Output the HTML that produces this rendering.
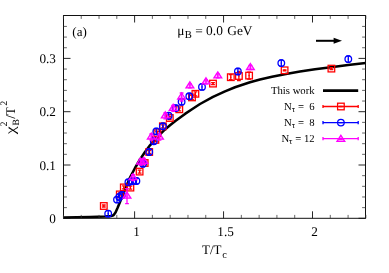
<!DOCTYPE html>
<html><head><meta charset="utf-8"><title>chi2B</title>
<style>
html,body{margin:0;padding:0;background:#fff;}
body{width:389px;height:273px;overflow:hidden;}
svg{display:block;will-change:transform;}
text{font-family:"Liberation Serif",serif;fill:#000;white-space:pre;text-rendering:geometricPrecision;}
</style></head><body>
<svg width="389" height="273" viewBox="0 0 389 273">
<rect width="389" height="273" fill="#fff"/>
<path d="M63.6 217.6 L90.0 217.0 L105.0 216.4 L111.0 216.0 L113.5 215.2 L115.5 212.5 L117.5 208.0 L120.0 202.0 L125.0 189.5 L130.0 177.5 L135.0 168.0 L140.0 159.5 L145.0 152.0 L150.0 145.3 L157.0 137.3 L163.5 130.9 L170.0 125.2 L176.0 120.6 L185.0 113.9 L192.0 109.2 L200.0 104.0 L213.0 96.9 L225.0 91.4 L235.0 87.3 L250.0 82.3 L260.0 79.6 L272.0 76.8 L284.6 74.2 L300.0 71.5 L315.0 69.2 L331.0 67.2 L348.0 65.0 L365.7 63.0" fill="none" stroke="#000" stroke-width="2.55" stroke-linejoin="round" stroke-linecap="butt"/>
<rect x="100.50" y="202.70" width="6.60" height="6.60" fill="none" stroke="#ff0000" stroke-width="1.3"/><path d="M103.80 205.00V207.00M101.90 205.00h3.8M101.90 207.00h3.8" stroke="#ff0000" stroke-width="1.3" fill="none"/><circle cx="103.80" cy="206.00" r="0.7" fill="#ff0000"/>
<rect x="116.50" y="191.10" width="6.60" height="6.60" fill="none" stroke="#ff0000" stroke-width="1.3"/><path d="M119.80 192.90V195.90M117.90 192.90h3.8M117.90 195.90h3.8" stroke="#ff0000" stroke-width="1.3" fill="none"/><circle cx="119.80" cy="194.40" r="0.7" fill="#ff0000"/>
<rect x="120.50" y="184.10" width="6.60" height="6.60" fill="none" stroke="#ff0000" stroke-width="1.3"/><path d="M123.80 185.90V188.90M121.90 185.90h3.8M121.90 188.90h3.8" stroke="#ff0000" stroke-width="1.3" fill="none"/><circle cx="123.80" cy="187.40" r="0.7" fill="#ff0000"/>
<rect x="127.10" y="184.30" width="6.60" height="6.60" fill="none" stroke="#ff0000" stroke-width="1.3"/><path d="M130.40 186.10V189.10M128.50 186.10h3.8M128.50 189.10h3.8" stroke="#ff0000" stroke-width="1.3" fill="none"/><circle cx="130.40" cy="187.60" r="0.7" fill="#ff0000"/>
<rect x="136.30" y="168.30" width="6.60" height="6.60" fill="none" stroke="#ff0000" stroke-width="1.3"/><path d="M139.60 170.10V173.10M137.70 170.10h3.8M137.70 173.10h3.8" stroke="#ff0000" stroke-width="1.3" fill="none"/><circle cx="139.60" cy="171.60" r="0.7" fill="#ff0000"/>
<rect x="141.40" y="159.70" width="6.60" height="6.60" fill="none" stroke="#ff0000" stroke-width="1.3"/><path d="M144.70 161.50V164.50M142.80 161.50h3.8M142.80 164.50h3.8" stroke="#ff0000" stroke-width="1.3" fill="none"/><circle cx="144.70" cy="163.00" r="0.7" fill="#ff0000"/>
<rect x="145.90" y="148.70" width="6.60" height="6.60" fill="none" stroke="#ff0000" stroke-width="1.3"/><path d="M149.20 150.50V153.50M147.30 150.50h3.8M147.30 153.50h3.8" stroke="#ff0000" stroke-width="1.3" fill="none"/><circle cx="149.20" cy="152.00" r="0.7" fill="#ff0000"/>
<rect x="152.10" y="136.60" width="6.60" height="6.60" fill="none" stroke="#ff0000" stroke-width="1.3"/><path d="M155.40 138.40V141.40M153.50 138.40h3.8M153.50 141.40h3.8" stroke="#ff0000" stroke-width="1.3" fill="none"/><circle cx="155.40" cy="139.90" r="0.7" fill="#ff0000"/>
<rect x="154.00" y="129.90" width="6.60" height="6.60" fill="none" stroke="#ff0000" stroke-width="1.3"/><path d="M157.30 131.70V134.70M155.40 131.70h3.8M155.40 134.70h3.8" stroke="#ff0000" stroke-width="1.3" fill="none"/><circle cx="157.30" cy="133.20" r="0.7" fill="#ff0000"/>
<rect x="159.60" y="123.00" width="6.60" height="6.60" fill="none" stroke="#ff0000" stroke-width="1.3"/><path d="M162.90 124.80V127.80M161.00 124.80h3.8M161.00 127.80h3.8" stroke="#ff0000" stroke-width="1.3" fill="none"/><circle cx="162.90" cy="126.30" r="0.7" fill="#ff0000"/>
<rect x="166.50" y="114.70" width="6.60" height="6.60" fill="none" stroke="#ff0000" stroke-width="1.3"/><path d="M169.80 116.50V119.50M167.90 116.50h3.8M167.90 119.50h3.8" stroke="#ff0000" stroke-width="1.3" fill="none"/><circle cx="169.80" cy="118.00" r="0.7" fill="#ff0000"/>
<rect x="176.00" y="106.00" width="6.60" height="6.60" fill="none" stroke="#ff0000" stroke-width="1.3"/><path d="M179.30 107.80V110.80M177.40 107.80h3.8M177.40 110.80h3.8" stroke="#ff0000" stroke-width="1.3" fill="none"/><circle cx="179.30" cy="109.30" r="0.7" fill="#ff0000"/>
<rect x="188.70" y="94.10" width="6.60" height="6.60" fill="none" stroke="#ff0000" stroke-width="1.3"/><path d="M192.00 95.40V99.40M190.10 95.40h3.8M190.10 99.40h3.8" stroke="#ff0000" stroke-width="1.3" fill="none"/><circle cx="192.00" cy="97.40" r="0.7" fill="#ff0000"/>
<rect x="192.10" y="90.50" width="6.60" height="6.60" fill="none" stroke="#ff0000" stroke-width="1.3"/><path d="M195.40 91.80V95.80M193.50 91.80h3.8M193.50 95.80h3.8" stroke="#ff0000" stroke-width="1.3" fill="none"/><circle cx="195.40" cy="93.80" r="0.7" fill="#ff0000"/>
<rect x="209.70" y="80.30" width="6.60" height="6.60" fill="none" stroke="#ff0000" stroke-width="1.3"/><path d="M213.00 82.60V84.60M211.10 82.60h3.8M211.10 84.60h3.8" stroke="#ff0000" stroke-width="1.3" fill="none"/><circle cx="213.00" cy="83.60" r="0.7" fill="#ff0000"/>
<rect x="227.50" y="73.90" width="6.60" height="6.60" fill="none" stroke="#ff0000" stroke-width="1.3"/><path d="M230.80 74.70V79.70M228.90 74.70h3.8M228.90 79.70h3.8" stroke="#ff0000" stroke-width="1.3" fill="none"/><circle cx="230.80" cy="77.20" r="0.7" fill="#ff0000"/>
<rect x="235.60" y="72.70" width="6.60" height="6.60" fill="none" stroke="#ff0000" stroke-width="1.3"/><path d="M238.90 71.50V80.50M237.00 71.50h3.8M237.00 80.50h3.8" stroke="#ff0000" stroke-width="1.3" fill="none"/><circle cx="238.90" cy="76.00" r="0.7" fill="#ff0000"/>
<rect x="245.80" y="72.30" width="6.60" height="6.60" fill="none" stroke="#ff0000" stroke-width="1.3"/><path d="M249.10 72.10V79.10M247.20 72.10h3.8M247.20 79.10h3.8" stroke="#ff0000" stroke-width="1.3" fill="none"/><circle cx="249.10" cy="75.60" r="0.7" fill="#ff0000"/>
<rect x="281.30" y="67.00" width="6.60" height="6.60" fill="none" stroke="#ff0000" stroke-width="1.3"/><path d="M284.60 69.80V70.80M282.70 69.80h3.8M282.70 70.80h3.8" stroke="#ff0000" stroke-width="1.3" fill="none"/><circle cx="284.60" cy="70.30" r="0.7" fill="#ff0000"/>
<rect x="328.10" y="65.30" width="6.60" height="6.60" fill="none" stroke="#ff0000" stroke-width="1.3"/><path d="M331.40 67.70V69.50M329.50 67.70h3.8M329.50 69.50h3.8" stroke="#ff0000" stroke-width="1.3" fill="none"/><circle cx="331.40" cy="68.60" r="0.7" fill="#ff0000"/>
<circle cx="108.20" cy="213.70" r="3.3" fill="none" stroke="#0000ff" stroke-width="1.3"/><path d="M108.20 210.70V216.70M106.30 210.70h3.8M106.30 216.70h3.8" stroke="#0000ff" stroke-width="1.3" fill="none"/><circle cx="108.20" cy="213.70" r="0.7" fill="#0000ff"/>
<circle cx="117.00" cy="199.60" r="3.3" fill="none" stroke="#0000ff" stroke-width="1.3"/><path d="M117.00 196.60V202.60M115.10 196.60h3.8M115.10 202.60h3.8" stroke="#0000ff" stroke-width="1.3" fill="none"/><circle cx="117.00" cy="199.60" r="0.7" fill="#0000ff"/>
<circle cx="119.30" cy="197.00" r="3.3" fill="none" stroke="#0000ff" stroke-width="1.3"/><path d="M119.30 194.00V200.00M117.40 194.00h3.8M117.40 200.00h3.8" stroke="#0000ff" stroke-width="1.3" fill="none"/><circle cx="119.30" cy="197.00" r="0.7" fill="#0000ff"/>
<circle cx="121.90" cy="195.00" r="3.3" fill="none" stroke="#0000ff" stroke-width="1.3"/><path d="M121.90 192.00V198.00M120.00 192.00h3.8M120.00 198.00h3.8" stroke="#0000ff" stroke-width="1.3" fill="none"/><circle cx="121.90" cy="195.00" r="0.7" fill="#0000ff"/>
<circle cx="128.40" cy="182.30" r="3.3" fill="none" stroke="#0000ff" stroke-width="1.3"/><path d="M128.40 179.30V185.30M126.50 179.30h3.8M126.50 185.30h3.8" stroke="#0000ff" stroke-width="1.3" fill="none"/><circle cx="128.40" cy="182.30" r="0.7" fill="#0000ff"/>
<circle cx="132.40" cy="181.20" r="3.3" fill="none" stroke="#0000ff" stroke-width="1.3"/><path d="M132.40 178.20V184.20M130.50 178.20h3.8M130.50 184.20h3.8" stroke="#0000ff" stroke-width="1.3" fill="none"/><circle cx="132.40" cy="181.20" r="0.7" fill="#0000ff"/>
<circle cx="136.40" cy="181.00" r="3.3" fill="none" stroke="#0000ff" stroke-width="1.3"/><path d="M136.40 178.00V184.00M134.50 178.00h3.8M134.50 184.00h3.8" stroke="#0000ff" stroke-width="1.3" fill="none"/><circle cx="136.40" cy="181.00" r="0.7" fill="#0000ff"/>
<circle cx="143.00" cy="163.80" r="3.3" fill="none" stroke="#0000ff" stroke-width="1.3"/><path d="M143.00 160.80V166.80M141.10 160.80h3.8M141.10 166.80h3.8" stroke="#0000ff" stroke-width="1.3" fill="none"/><circle cx="143.00" cy="163.80" r="0.7" fill="#0000ff"/>
<circle cx="149.20" cy="152.00" r="3.3" fill="none" stroke="#0000ff" stroke-width="1.3"/><path d="M149.20 149.00V155.00M147.30 149.00h3.8M147.30 155.00h3.8" stroke="#0000ff" stroke-width="1.3" fill="none"/><circle cx="149.20" cy="152.00" r="0.7" fill="#0000ff"/>
<circle cx="153.80" cy="141.20" r="3.3" fill="none" stroke="#0000ff" stroke-width="1.3"/><path d="M153.80 138.20V144.20M151.90 138.20h3.8M151.90 144.20h3.8" stroke="#0000ff" stroke-width="1.3" fill="none"/><circle cx="153.80" cy="141.20" r="0.7" fill="#0000ff"/>
<circle cx="156.30" cy="131.40" r="3.3" fill="none" stroke="#0000ff" stroke-width="1.3"/><path d="M156.30 128.40V134.40M154.40 128.40h3.8M154.40 134.40h3.8" stroke="#0000ff" stroke-width="1.3" fill="none"/><circle cx="156.30" cy="131.40" r="0.7" fill="#0000ff"/>
<circle cx="162.90" cy="126.30" r="3.3" fill="none" stroke="#0000ff" stroke-width="1.3"/><path d="M162.90 123.30V129.30M161.00 123.30h3.8M161.00 129.30h3.8" stroke="#0000ff" stroke-width="1.3" fill="none"/><circle cx="162.90" cy="126.30" r="0.7" fill="#0000ff"/>
<circle cx="168.60" cy="115.70" r="3.3" fill="none" stroke="#0000ff" stroke-width="1.3"/><path d="M168.60 112.70V118.70M166.70 112.70h3.8M166.70 118.70h3.8" stroke="#0000ff" stroke-width="1.3" fill="none"/><circle cx="168.60" cy="115.70" r="0.7" fill="#0000ff"/>
<circle cx="175.60" cy="108.10" r="3.3" fill="none" stroke="#0000ff" stroke-width="1.3"/><path d="M175.60 105.10V111.10M173.70 105.10h3.8M173.70 111.10h3.8" stroke="#0000ff" stroke-width="1.3" fill="none"/><circle cx="175.60" cy="108.10" r="0.7" fill="#0000ff"/>
<circle cx="181.60" cy="101.80" r="3.3" fill="none" stroke="#0000ff" stroke-width="1.3"/><path d="M181.60 98.80V104.80M179.70 98.80h3.8M179.70 104.80h3.8" stroke="#0000ff" stroke-width="1.3" fill="none"/><circle cx="181.60" cy="101.80" r="0.7" fill="#0000ff"/>
<circle cx="189.30" cy="96.30" r="3.3" fill="none" stroke="#0000ff" stroke-width="1.3"/><path d="M189.30 93.30V99.30M187.40 93.30h3.8M187.40 99.30h3.8" stroke="#0000ff" stroke-width="1.3" fill="none"/><circle cx="189.30" cy="96.30" r="0.7" fill="#0000ff"/>
<circle cx="202.00" cy="86.90" r="3.3" fill="none" stroke="#0000ff" stroke-width="1.3"/><path d="M202.00 83.90V89.90M200.10 83.90h3.8M200.10 89.90h3.8" stroke="#0000ff" stroke-width="1.3" fill="none"/><circle cx="202.00" cy="86.90" r="0.7" fill="#0000ff"/>
<circle cx="237.90" cy="71.50" r="3.3" fill="none" stroke="#0000ff" stroke-width="1.3"/><path d="M237.90 68.50V74.50M236.00 68.50h3.8M236.00 74.50h3.8" stroke="#0000ff" stroke-width="1.3" fill="none"/><circle cx="237.90" cy="71.50" r="0.7" fill="#0000ff"/>
<circle cx="281.30" cy="63.10" r="3.3" fill="none" stroke="#0000ff" stroke-width="1.3"/><path d="M281.30 59.80V66.40M279.40 59.80h3.8M279.40 66.40h3.8" stroke="#0000ff" stroke-width="1.3" fill="none"/><circle cx="281.30" cy="63.10" r="0.7" fill="#0000ff"/>
<circle cx="348.30" cy="59.10" r="3.3" fill="none" stroke="#0000ff" stroke-width="1.3"/><path d="M348.30 55.80V62.40M346.40 55.80h3.8M346.40 62.40h3.8" stroke="#0000ff" stroke-width="1.3" fill="none"/><circle cx="348.30" cy="59.10" r="0.7" fill="#0000ff"/>
<path d="M127.00 192.20L130.90 198.20H123.10Z" fill="#ff00ff" fill-opacity="0.3" stroke="#ff00ff" stroke-width="1.3" stroke-linejoin="miter"/><path d="M127.00 188.70V203.70M125.10 188.70h3.8M125.10 203.70h3.8" stroke="#ff00ff" stroke-width="1.3" fill="none"/><circle cx="127.00" cy="196.20" r="0.7" fill="#ff00ff"/>
<path d="M133.00 173.60L136.90 179.60H129.10Z" fill="#ff00ff" fill-opacity="0.3" stroke="#ff00ff" stroke-width="1.3" stroke-linejoin="miter"/><path d="M133.00 174.60V180.60M131.10 174.60h3.8M131.10 180.60h3.8" stroke="#ff00ff" stroke-width="1.3" fill="none"/><circle cx="133.00" cy="177.60" r="0.7" fill="#ff00ff"/>
<path d="M140.60 158.00L144.50 164.00H136.70Z" fill="#ff00ff" fill-opacity="0.3" stroke="#ff00ff" stroke-width="1.3" stroke-linejoin="miter"/><path d="M140.60 159.00V165.00M138.70 159.00h3.8M138.70 165.00h3.8" stroke="#ff00ff" stroke-width="1.3" fill="none"/><circle cx="140.60" cy="162.00" r="0.7" fill="#ff00ff"/>
<path d="M143.90 157.30L147.80 163.30H140.00Z" fill="#ff00ff" fill-opacity="0.3" stroke="#ff00ff" stroke-width="1.3" stroke-linejoin="miter"/><path d="M143.90 158.30V164.30M142.00 158.30h3.8M142.00 164.30h3.8" stroke="#ff00ff" stroke-width="1.3" fill="none"/><circle cx="143.90" cy="161.30" r="0.7" fill="#ff00ff"/>
<path d="M151.30 133.00L155.20 139.00H147.40Z" fill="#ff00ff" fill-opacity="0.3" stroke="#ff00ff" stroke-width="1.3" stroke-linejoin="miter"/><path d="M151.30 134.00V140.00M149.40 134.00h3.8M149.40 140.00h3.8" stroke="#ff00ff" stroke-width="1.3" fill="none"/><circle cx="151.30" cy="137.00" r="0.7" fill="#ff00ff"/>
<path d="M159.50 133.20L163.40 139.20H155.60Z" fill="#ff00ff" fill-opacity="0.3" stroke="#ff00ff" stroke-width="1.3" stroke-linejoin="miter"/><path d="M159.50 134.20V140.20M157.60 134.20h3.8M157.60 140.20h3.8" stroke="#ff00ff" stroke-width="1.3" fill="none"/><circle cx="159.50" cy="137.20" r="0.7" fill="#ff00ff"/>
<path d="M165.30 111.80L169.20 117.80H161.40Z" fill="#ff00ff" fill-opacity="0.3" stroke="#ff00ff" stroke-width="1.3" stroke-linejoin="miter"/><path d="M165.30 112.80V118.80M163.40 112.80h3.8M163.40 118.80h3.8" stroke="#ff00ff" stroke-width="1.3" fill="none"/><circle cx="165.30" cy="115.80" r="0.7" fill="#ff00ff"/>
<path d="M173.20 104.30L177.10 110.30H169.30Z" fill="#ff00ff" fill-opacity="0.3" stroke="#ff00ff" stroke-width="1.3" stroke-linejoin="miter"/><path d="M173.20 105.30V111.30M171.30 105.30h3.8M171.30 111.30h3.8" stroke="#ff00ff" stroke-width="1.3" fill="none"/><circle cx="173.20" cy="108.30" r="0.7" fill="#ff00ff"/>
<path d="M181.60 93.00L185.50 99.00H177.70Z" fill="#ff00ff" fill-opacity="0.3" stroke="#ff00ff" stroke-width="1.3" stroke-linejoin="miter"/><path d="M181.60 93.00V101.00M179.70 93.00h3.8M179.70 101.00h3.8" stroke="#ff00ff" stroke-width="1.3" fill="none"/><circle cx="181.60" cy="97.00" r="0.7" fill="#ff00ff"/>
<path d="M189.90 81.80L193.80 87.80H186.00Z" fill="#ff00ff" fill-opacity="0.3" stroke="#ff00ff" stroke-width="1.3" stroke-linejoin="miter"/><path d="M189.90 83.80V87.80M188.00 83.80h3.8M188.00 87.80h3.8" stroke="#ff00ff" stroke-width="1.3" fill="none"/><circle cx="189.90" cy="85.80" r="0.7" fill="#ff00ff"/>
<path d="M206.00 77.80L209.90 83.80H202.10Z" fill="#ff00ff" fill-opacity="0.3" stroke="#ff00ff" stroke-width="1.3" stroke-linejoin="miter"/><path d="M206.00 79.80V83.80M204.10 79.80h3.8M204.10 83.80h3.8" stroke="#ff00ff" stroke-width="1.3" fill="none"/><circle cx="206.00" cy="81.80" r="0.7" fill="#ff00ff"/>
<path d="M217.80 71.90L221.70 77.90H213.90Z" fill="#ff00ff" fill-opacity="0.3" stroke="#ff00ff" stroke-width="1.3" stroke-linejoin="miter"/><path d="M217.80 73.90V77.90M215.90 73.90h3.8M215.90 77.90h3.8" stroke="#ff00ff" stroke-width="1.3" fill="none"/><circle cx="217.80" cy="75.90" r="0.7" fill="#ff00ff"/>
<path d="M250.40 63.50L254.30 69.50H246.50Z" fill="#ff00ff" fill-opacity="0.3" stroke="#ff00ff" stroke-width="1.3" stroke-linejoin="miter"/><path d="M250.40 65.50V69.50M248.50 65.50h3.8M248.50 69.50h3.8" stroke="#ff00ff" stroke-width="1.3" fill="none"/><circle cx="250.40" cy="67.50" r="0.7" fill="#ff00ff"/>
<rect x="63.5" y="15.5" width="302.00" height="202.80" fill="none" stroke="#111" stroke-width="1.0"/>
<path d="M134.60 218.3v-7M134.60 15.5v7M223.55 218.3v-7M223.55 15.5v7M312.50 218.3v-7M312.50 15.5v7M63.5 218.30h7M365.5 218.30h-7M63.5 165.00h7M365.5 165.00h-7M63.5 111.70h7M365.5 111.70h-7M63.5 58.40h7M365.5 58.40h-7" stroke="#111" stroke-width="0.9" fill="none"/>
<path d="M63.44 218.3v-3.4M63.44 15.5v3.4M81.23 218.3v-3.4M81.23 15.5v3.4M99.02 218.3v-3.4M99.02 15.5v3.4M116.81 218.3v-3.4M116.81 15.5v3.4M152.39 218.3v-3.4M152.39 15.5v3.4M170.18 218.3v-3.4M170.18 15.5v3.4M187.97 218.3v-3.4M187.97 15.5v3.4M205.76 218.3v-3.4M205.76 15.5v3.4M241.34 218.3v-3.4M241.34 15.5v3.4M259.13 218.3v-3.4M259.13 15.5v3.4M276.92 218.3v-3.4M276.92 15.5v3.4M294.71 218.3v-3.4M294.71 15.5v3.4M330.29 218.3v-3.4M330.29 15.5v3.4M348.08 218.3v-3.4M348.08 15.5v3.4M365.87 218.3v-3.4M365.87 15.5v3.4M63.5 207.64h3.4M365.5 207.64h-3.4M63.5 196.98h3.4M365.5 196.98h-3.4M63.5 186.32h3.4M365.5 186.32h-3.4M63.5 175.66h3.4M365.5 175.66h-3.4M63.5 154.34h3.4M365.5 154.34h-3.4M63.5 143.68h3.4M365.5 143.68h-3.4M63.5 133.02h3.4M365.5 133.02h-3.4M63.5 122.36h3.4M365.5 122.36h-3.4M63.5 101.04h3.4M365.5 101.04h-3.4M63.5 90.38h3.4M365.5 90.38h-3.4M63.5 79.72h3.4M365.5 79.72h-3.4M63.5 69.06h3.4M365.5 69.06h-3.4M63.5 47.74h3.4M365.5 47.74h-3.4M63.5 37.08h3.4M365.5 37.08h-3.4M63.5 26.42h3.4M365.5 26.42h-3.4" stroke="#333" stroke-width="0.75" fill="none"/>
<text x="136.60" y="236.0" font-size="13.2" text-anchor="middle">1</text>
<text x="225.55" y="236.0" font-size="13.2" text-anchor="middle">1.5</text>
<text x="314.50" y="236.0" font-size="13.2" text-anchor="middle">2</text>
<text x="55.9" y="222.80" font-size="13.2" text-anchor="end">0</text>
<text x="55.9" y="169.50" font-size="13.2" text-anchor="end">0.1</text>
<text x="55.9" y="116.20" font-size="13.2" text-anchor="end">0.2</text>
<text x="55.9" y="62.90" font-size="13.2" text-anchor="end">0.3</text>
<text x="202" y="253.8" font-size="13">T/T<tspan font-size="10.4" dy="3.8" dx="0.7">c</tspan></text>
<text x="72.3" y="35.5" font-size="13">(a)</text>
<text x="177.3" y="35" font-size="13.4">μ<tspan font-size="10.6" dy="2.8" dx="0.3">B</tspan><tspan dy="-2.8"> = 0.0</tspan><tspan dx="1.0"> GeV</tspan></text>
<g transform="translate(14.7,134.2) rotate(-90)"><text font-size="14" x="0" y="0" transform="scale(1.28,1)">χ</text><text font-size="10" x="7.8" y="-8.0">2</text><text font-size="9.6" x="8.6" y="3.8">B</text><text font-size="13.2" x="15.4" y="0">/T</text><text font-size="10" x="28.4" y="-8.0">2</text></g>
<path d="M316 40.8H335" stroke="#000" stroke-width="2.0" fill="none"/><path d="M342 40.8L333.6 37.8V43.8Z" fill="#000"/>
<text x="314.6" y="94.0" font-size="10.7" text-anchor="end">This work</text>
<text x="314.6" y="109.9" font-size="10.7" text-anchor="end">N<tspan font-size="8.5" dy="2.2">τ</tspan><tspan dy="-2.2"> =  6</tspan></text>
<text x="314.6" y="126.0" font-size="10.7" text-anchor="end">N<tspan font-size="8.5" dy="2.2">τ</tspan><tspan dy="-2.2"> =  8</tspan></text>
<text x="314.6" y="142.1" font-size="10.7" text-anchor="end">N<tspan font-size="8.5" dy="2.2">τ</tspan><tspan dy="-2.2"> = 12</tspan></text>
<path d="M323 90.6H358.2" stroke="#000" stroke-width="2.7"/>
<path d="M323 106.5H358.2M323 104.9v3.2M358.2 104.9v3.2" stroke="#ff0000" stroke-width="1.3" fill="none"/>
<rect x="337.60" y="103.20" width="6.60" height="6.60" fill="none" stroke="#ff0000" stroke-width="1.3"/><path d="M340.90 106.50V106.50M339.00 106.50h3.8M339.00 106.50h3.8" stroke="#ff0000" stroke-width="1.3" fill="none"/><circle cx="340.90" cy="106.50" r="0.7" fill="#ff0000"/>
<path d="M323 122.6H358.2M323 121.0v3.2M358.2 121.0v3.2" stroke="#0000ff" stroke-width="1.3" fill="none"/>
<circle cx="340.90" cy="122.60" r="3.3" fill="none" stroke="#0000ff" stroke-width="1.3"/><path d="M340.90 122.60V122.60M339.00 122.60h3.8M339.00 122.60h3.8" stroke="#0000ff" stroke-width="1.3" fill="none"/><circle cx="340.90" cy="122.60" r="0.7" fill="#0000ff"/>
<path d="M323 138.7H358.2M323 137.1v3.2M358.2 137.1v3.2" stroke="#ff00ff" stroke-width="1.3" fill="none"/>
<path d="M340.90 135.30L344.80 141.30H337.00Z" fill="#ff00ff" fill-opacity="0.3" stroke="#ff00ff" stroke-width="1.3" stroke-linejoin="miter"/><path d="M340.90 139.30V139.30M339.00 139.30h3.8M339.00 139.30h3.8" stroke="#ff00ff" stroke-width="1.3" fill="none"/><circle cx="340.90" cy="139.30" r="0.7" fill="#ff00ff"/>
</svg>
</body></html>
